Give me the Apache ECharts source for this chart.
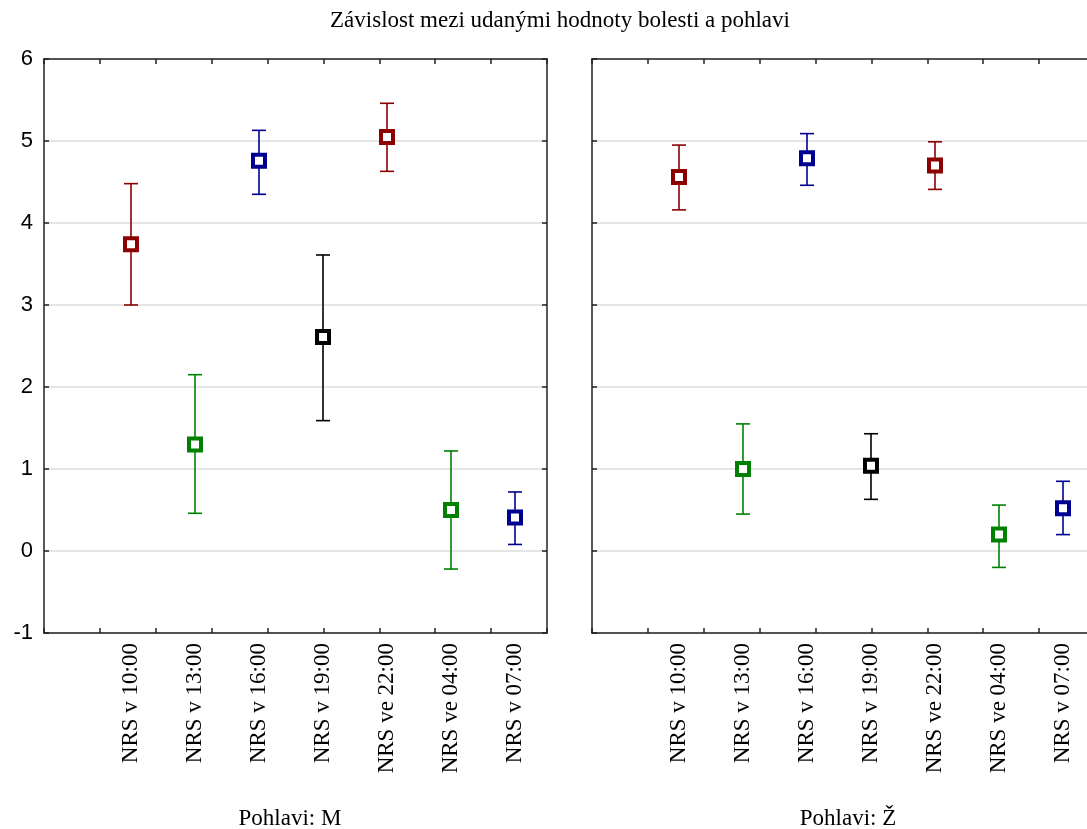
<!DOCTYPE html>
<html>
<head>
<meta charset="utf-8">
<script src="https://cdn.jsdelivr.net/npm/echarts@6/dist/echarts.min.js"></script>
<style>
  html, body { margin: 0; padding: 0; background: #fff; }
  #chart { width: 1087px; height: 829px; }
</style>
</head>
<body>
<div id="chart"></div>
<script>
// categories (time of NRS measurement)
const times = ["NRS v 10:00", "NRS v 13:00", "NRS v 16:00", "NRS v 19:00", "NRS ve 22:00", "NRS ve 04:00", "NRS v 07:00"];
const pointColors = ["#8b0000", "#008000", "#000090", "#000000", "#8b0000", "#008000", "#000090"];
const yTicks = [-1, 0, 1, 2, 3, 4, 5, 6];

// Pohlavi: M
const meanM = [3.74, 1.30, 4.76, 2.61, 5.05, 0.50, 0.41];
const lowM  = [3.00, 0.46, 4.35, 1.59, 4.63, -0.22, 0.08];
const highM = [4.48, 2.15, 5.13, 3.61, 5.46, 1.22, 0.72];

// Pohlavi: Ž
const meanZ = [4.56, 1.00, 4.79, 1.04, 4.70, 0.20, 0.52];
const lowZ  = [4.16, 0.45, 4.46, 0.63, 4.41, -0.20, 0.20];
const highZ = [4.95, 1.55, 5.09, 1.43, 4.99, 0.56, 0.85];

const chart = echarts.init(document.getElementById("chart"));

const serif = "'Liberation Serif', 'Times New Roman', serif";
const sans = "'Liberation Sans', Arial, sans-serif";
const frameColor = "#222";

// each panel: frame grid (box, y axis, ticks) + data grid (points)
const panels = [
  { left: 44, mean: meanM, low: lowM, high: highM, showY: true },
  { left: 592, mean: meanZ, low: lowZ, high: highZ, showY: false }
];

const grids = [];
const xAxes = [];
const yAxes = [];
const series = [];
const tickSlots = ["a", "b", "c", "d", "e", "f", "g", "h", "i"];

panels.forEach((p, i) => {
  const frameIdx = i * 2;
  const dataIdx = i * 2 + 1;
  grids.push({ left: p.left, top: 59, width: 503, height: 574, outerBoundsMode: "none" });
  grids.push({ left: p.left + 55, top: 59, width: 448, height: 574, outerBoundsMode: "none" });

  // frame bottom & top axes with inner ticks
  ["bottom", "top"].forEach(pos => {
    xAxes.push({
      type: "category", gridIndex: frameIdx, position: pos, data: tickSlots,
      boundaryGap: true,
      axisLine: { show: true, onZero: false, lineStyle: { color: frameColor, width: 1.5 } },
      axisTick: { show: true, inside: true, length: 5, lineStyle: { color: frameColor, width: 1.5 } },
      axisLabel: { show: false }, splitLine: { show: false }
    });
  });
  // data x axis with labels
  xAxes.push({
    type: "category", gridIndex: dataIdx, data: times, boundaryGap: true,
    axisLine: { show: false, onZero: false }, axisTick: { show: false },
    axisLabel: { rotate: 90, margin: 10, fontFamily: serif, fontSize: 23, color: "#000" }
  });

  // frame left & right y axes
  ["left", "right"].forEach(pos => {
    yAxes.push({
      type: "value", gridIndex: frameIdx, position: pos, min: -1, max: 6, interval: 1,
      axisLine: { show: true, onZero: false, lineStyle: { color: frameColor, width: 1.5 } },
      axisTick: { show: true, inside: true, length: 5, lineStyle: { color: frameColor, width: 1.5 } },
      axisLabel: {
        show: p.showY && pos === "left", margin: 11, fontFamily: sans, fontSize: 22, color: "#000",
        formatter: v => (yTicks.indexOf(v) >= 0 ? String(v) : "")
      },
      splitLine: { show: pos === "left", lineStyle: { color: "#dcdcdc", width: 1.5 } }
    });
  });
  // data y axis (hidden)
  yAxes.push({
    type: "value", gridIndex: dataIdx, min: -1, max: 6, interval: 1, show: false,
    splitLine: { show: false }
  });
});

// axis index bookkeeping: per panel x: [bottom, top, data], y: [left, right, data]
panels.forEach((p, i) => {
  const xData = i * 3 + 2;
  const yData = i * 3 + 2;
  series.push({
    type: "custom",
    xAxisIndex: xData, yAxisIndex: yData,
    data: times.map((t, k) => [k, p.low[k], p.high[k]]),
    renderItem: (params, api) => {
      const k = api.value(0);
      const lo = api.coord([k, api.value(1)]);
      const hi = api.coord([k, api.value(2)]);
      const half = 7;
      const style = { stroke: pointColors[k], lineWidth: 1.6 };
      return {
        type: "group",
        children: [
          { type: "line", shape: { x1: lo[0], y1: lo[1], x2: hi[0], y2: hi[1] }, style },
          { type: "line", shape: { x1: lo[0] - half, y1: lo[1], x2: lo[0] + half, y2: lo[1] }, style },
          { type: "line", shape: { x1: hi[0] - half, y1: hi[1], x2: hi[0] + half, y2: hi[1] }, style }
        ]
      };
    },
    z: 2, silent: true
  });
  series.push({
    type: "scatter",
    xAxisIndex: xData, yAxisIndex: yData,
    symbol: "rect", symbolSize: 12,
    data: times.map((t, k) => ({
      value: [k, p.mean[k]],
      itemStyle: { color: "#fff", borderColor: pointColors[k], borderWidth: 4, opacity: 1 }
    })),
    z: 3, silent: true
  });
});

chart.setOption({
  animation: false,
  backgroundColor: "#fff",
  title: [
    { text: "Závislost mezi udanými hodnoty bolesti a pohlavi", left: 555, top: 4, textAlign: "center",
      textStyle: { fontFamily: serif, fontSize: 23, fontWeight: "normal", color: "#000" } },
    { text: "Pohlavi: M", left: 285, top: 802, textAlign: "center",
      textStyle: { fontFamily: serif, fontSize: 23, fontWeight: "normal", color: "#000" } },
    { text: "Pohlavi: Ž", left: 843, top: 802, textAlign: "center",
      textStyle: { fontFamily: serif, fontSize: 23, fontWeight: "normal", color: "#000" } }
  ],
  grid: grids,
  xAxis: xAxes,
  yAxis: yAxes,
  series: series
});
</script>
</body>
</html>
